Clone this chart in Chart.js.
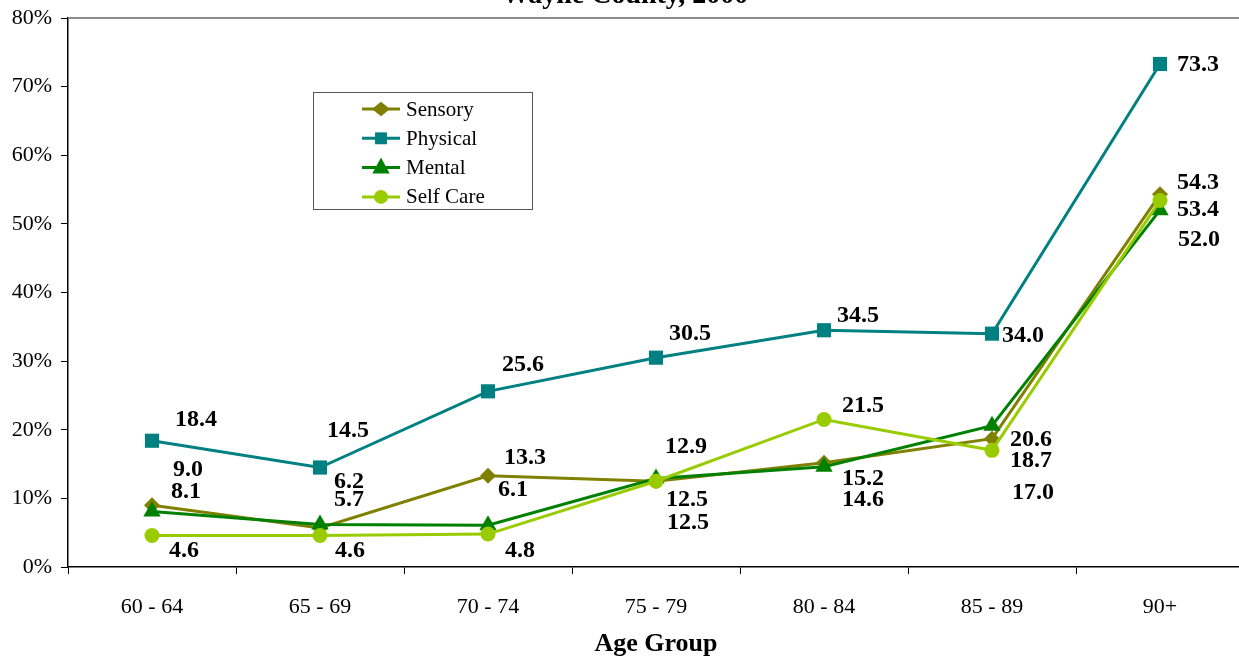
<!DOCTYPE html>
<html>
<head>
<meta charset="utf-8">
<script src="https://cdn.jsdelivr.net/npm/chart.js@4/dist/chart.umd.min.js"></script>
<style>
  html, body { margin: 0; padding: 0; background: #fff; overflow: hidden; }
  #wrap { position: relative; width: 1239px; height: 659px; overflow: hidden; }
  canvas { position: absolute; left: 0; top: 0; }
</style>
</head>
<body>
<div id="wrap"><canvas id="grafico" width="1260" height="659"></canvas></div>
<script>
// Dati (percentuali per fascia d'eta)
var ageGroups = ["60 - 64", "65 - 69", "70 - 74", "75 - 79", "80 - 84", "85 - 89", "90+"];
var sensory  = [9.0, 5.7, 13.3, 12.5, 15.2, 18.7, 54.3];
var physical = [18.4, 14.5, 25.6, 30.5, 34.5, 34.0, 73.3];
var mental   = [8.1, 6.2, 6.1, 12.9, 14.6, 20.6, 52.0];
var selfCare = [4.6, 4.6, 4.8, 12.5, 21.5, 17.0, 53.4];
var yTicks = [0, 10, 20, 30, 40, 50, 60, 70, 80];

var serif = "'Liberation Serif', 'Times New Roman', serif";

// Spostamento delle etichette rispetto al punto (dx, dy), come nel grafico originale
var labelOffsets = [
    [[36, -35], [29, -28], [37, -18], [31, 19], [39, 16], [39, 22], [38, -12]],
    [[44, -21], [28, -37], [35, -27], [34, -24], [34, -14], [31, 2], [38, 1]],
    [[34, -20], [29, -43], [25, -35], [30, -32], [39, 33], [39, 14], [39, 30]],
    [[32, 15], [30, 15], [32, 17], [32, 42], [39, -14], [41, 42], [38, 9]]
];

var serie = [
    { label: "Sensory",   data: sensory,  color: "#808000", style: "rectRot",  radius: 8,   order: 4, legendR: 9 },
    { label: "Physical",  data: physical, color: "#008080", style: "rect",     radius: 10,  order: 3, legendR: 8.5 },
    { label: "Mental",    data: mental,   color: "#008000", style: "triangle", radius: 10,  order: 2, legendR: 10 },
    { label: "Self Care", data: selfCare, color: "#99CC00", style: "circle",   radius: 7.5, order: 1, legendR: 7 }
];

// Titolo (tagliato in alto come nell'immagine) e bordo superiore grigio
var titoloPlugin = {
    id: "titolo",
    afterDraw: function (chart) {
        var ctx = chart.ctx, a = chart.chartArea;
        ctx.save();
        ctx.strokeStyle = "#8c8c8c";
        ctx.lineWidth = 2;
        ctx.beginPath();
        ctx.moveTo(a.left, a.top);
        ctx.lineTo(a.right + 20, a.top);
        ctx.stroke();
        ctx.fillStyle = "#000";
        ctx.font = "bold 28px " + serif;
        ctx.textAlign = "center";
        ctx.textBaseline = "alphabetic";
        ctx.fillText("Wayne County, 2000", 625, 3);
        ctx.restore();
    }
};

// Etichette con i valori accanto ai punti
var etichettePlugin = {
    id: "etichette",
    afterDatasetsDraw: function (chart) {
        var ctx = chart.ctx;
        ctx.save();
        ctx.fillStyle = "#000";
        ctx.font = "bold 24px " + serif;
        ctx.textAlign = "center";
        ctx.textBaseline = "middle";
        chart.data.datasets.forEach(function (ds, di) {
            var meta = chart.getDatasetMeta(di);
            meta.data.forEach(function (pt, i) {
                var off = labelOffsets[di][i];
                ctx.fillText(ds.data[i].toFixed(1), pt.x + off[0], pt.y + off[1]);
            });
        });
        ctx.restore();
    }
};

function disegnaMarker(ctx, style, x, y, r) {
    ctx.beginPath();
    if (style === "rectRot") {
        ctx.moveTo(x, y - r * 0.8); ctx.lineTo(x + r, y); ctx.lineTo(x, y + r * 0.8); ctx.lineTo(x - r, y);
    } else if (style === "rect") {
        ctx.rect(x - r * 0.7, y - r * 0.7, r * 1.4, r * 1.4);
    } else if (style === "triangle") {
        ctx.moveTo(x, y - r); ctx.lineTo(x + r * 0.87, y + r * 0.6); ctx.lineTo(x - r * 0.87, y + r * 0.6);
    } else {
        ctx.arc(x, y, r, 0, Math.PI * 2);
    }
    ctx.closePath();
    ctx.fill();
}

// Legenda nel riquadro interno
var legendaPlugin = {
    id: "legenda",
    afterDraw: function (chart) {
        var ctx = chart.ctx;
        ctx.save();
        ctx.fillStyle = "#fff";
        ctx.fillRect(313.5, 92.5, 219, 117);
        ctx.strokeStyle = "#555";
        ctx.lineWidth = 1;
        ctx.strokeRect(313.5, 92.5, 219, 117);
        serie.forEach(function (s, i) {
            var y = 109 + i * 29.3;
            ctx.strokeStyle = s.color;
            ctx.fillStyle = s.color;
            ctx.lineWidth = 3;
            ctx.beginPath();
            ctx.moveTo(362, y);
            ctx.lineTo(400, y);
            ctx.stroke();
            disegnaMarker(ctx, s.style, 381, y, s.legendR);
            ctx.fillStyle = "#000";
            ctx.font = "21px " + serif;
            ctx.textAlign = "left";
            ctx.textBaseline = "middle";
            ctx.fillText(s.label, 406, y + 1);
        });
        ctx.restore();
    }
};

new Chart(document.getElementById("grafico").getContext("2d"), {
    type: "line",
    data: {
        labels: ageGroups,
        datasets: serie.map(function (s) {
            return {
                label: s.label,
                data: s.data,
                borderColor: s.color,
                backgroundColor: s.color,
                borderWidth: 3,
                pointStyle: s.style,
                pointRadius: s.radius,
                pointBorderWidth: 0,
                pointBackgroundColor: s.color,
                tension: 0,
                order: s.order
            };
        })
    },
    options: {
        responsive: false,
        animation: false,
        events: [],
        layout: { padding: { top: 18, right: 16, left: 0, bottom: 0 } },
        plugins: { legend: { display: false }, tooltip: { enabled: false } },
        scales: {
            x: {
                offset: true,
                afterFit: function (s) { s.height = 92; s.paddingLeft = 0; s.paddingRight = 0; },
                grid: { offset: true, drawOnChartArea: false, drawTicks: true, tickLength: 7, color: "#000", lineWidth: 1 },
                border: { color: "#000", width: 1.5 },
                ticks: { color: "#000", padding: 20, font: { family: serif, size: 22 }, maxRotation: 0 },
                title: {
                    display: true,
                    text: "Age Group",
                    color: "#000",
                    font: { family: serif, size: 26, weight: "bold", lineHeight: 1 },
                    padding: { top: 0, bottom: 2 }
                }
            },
            y: {
                min: 0,
                max: 80,
                afterFit: function (s) { s.width = 68; s.paddingTop = 0; s.paddingBottom = 0; },
                afterBuildTicks: function (s) { s.ticks = yTicks.map(function (v) { return { value: v }; }); },
                grid: { drawOnChartArea: false, drawTicks: true, tickLength: 7, color: "#000", lineWidth: 1 },
                border: { color: "#000", width: 1.5 },
                ticks: {
                    color: "#000",
                    padding: 9,
                    font: { family: serif, size: 22 },
                    callback: function (v) { return v + "%"; }
                }
            }
        }
    },
    plugins: [titoloPlugin, etichettePlugin, legendaPlugin]
});
</script>
</body>
</html>
